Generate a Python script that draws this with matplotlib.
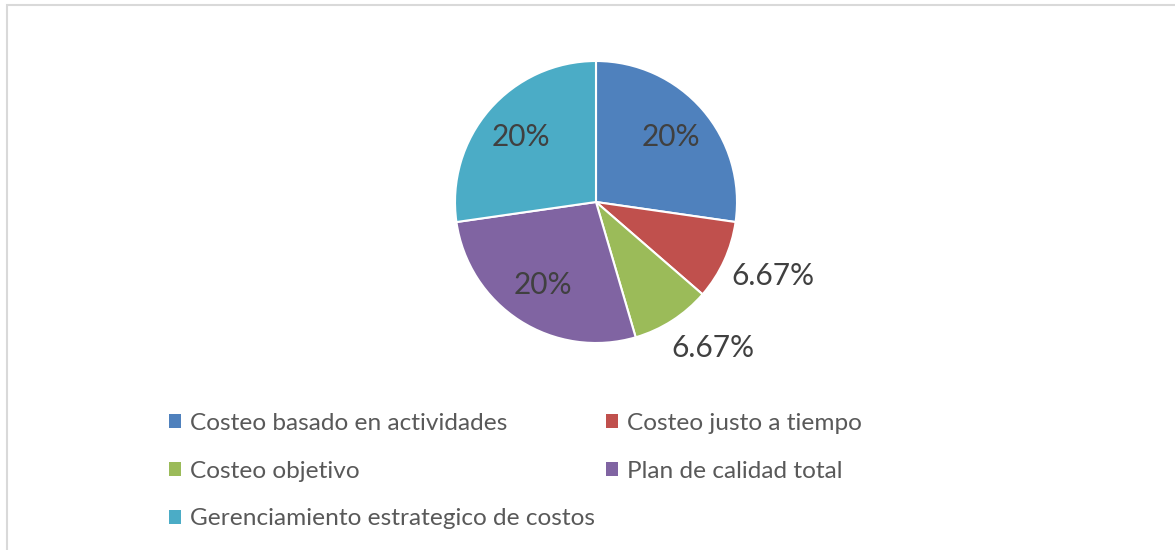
import numpy as np
import matplotlib.pyplot as plt
from matplotlib.patches import Patch, Rectangle

categories = ["Costeo basado en actividades", "Costeo justo a tiempo", "Costeo objetivo",
              "Plan de calidad total", "Gerenciamiento estrategico de costos"]
values = [20, 6.67, 6.67, 20, 20]
value_labels = ["20%", "6.67%", "6.67%", "20%", "20%"]
colors = ["#4F81BD", "#C0504D", "#9BBB59", "#8064A2", "#4BACC6"]

W, H = 1175, 550
plt.rcParams['font.family'] = ['Lato', 'DejaVu Sans']
fig = plt.figure(figsize=(W / 100, H / 100), dpi=100)

# light frame around the chart area
fig.add_artist(Rectangle((7 / W, -0.1), 1.2, 1.1 - 5 / H, transform=fig.transFigure,
                         fill=False, edgecolor="#d9d9d9", lw=1.5))

cx, cy, r = 596, 202, 141
ax = fig.add_axes([(cx - r) / W, (H - cy - r) / H, 2 * r / W, 2 * r / H])
wedges, _ = ax.pie(values, colors=colors, startangle=90, counterclock=False,
                   wedgeprops=dict(edgecolor="white", linewidth=1.5))
ax.set_xlim(-1, 1)
ax.set_ylim(-1, 1)
ax.axis("off")

# data labels: inside for big slices, outside for small ones
dist = [0.70, 1.36, 1.33, 0.70, 0.70]
nudge = [0, 2, 6, 0, 0]
for w, lab, d, n in zip(wedges, value_labels, dist, nudge):
    ang = np.deg2rad((w.theta1 + w.theta2) / 2 + n)
    ax.text(d * np.cos(ang), d * np.sin(ang), lab, ha="center", va="center",
            fontsize=21.5, color="#404040", clip_on=False)

handles = [Patch(facecolor=c, edgecolor="none") for c in colors]
order = [0, 2, 4, 1, 3]
leg = fig.legend([handles[i] for i in order], [categories[i] for i in order],
                 loc="upper left", bbox_to_anchor=(169 / W, 1 - 413 / H), ncol=2,
                 frameon=False, fontsize=17.6, handlelength=0.5, handleheight=0.5,
                 handletextpad=0.35, labelspacing=1.09, columnspacing=0.45,
                 borderaxespad=0, borderpad=0)
for t in leg.get_texts():
    t.set_color("#595959")

fig.savefig("out.png", dpi=100)
